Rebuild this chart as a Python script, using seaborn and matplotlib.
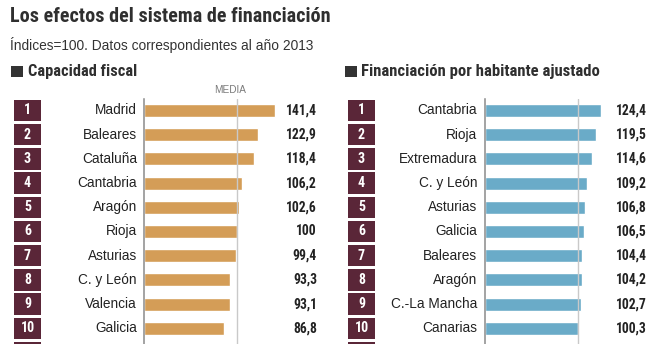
import matplotlib
matplotlib.use("Agg")
import matplotlib.pyplot as plt
from matplotlib import font_manager
from matplotlib.font_manager import FontProperties
from matplotlib.patches import Rectangle
from matplotlib.transforms import blended_transform_factory
import seaborn as sns
import pandas as pd

# --- data -------------------------------------------------------------
fiscal_regions = ["Madrid", "Baleares", "Cataluña", "Cantabria", "Aragón",
                  "Rioja", "Asturias", "C. y León", "Valencia", "Galicia"]
fiscal_values = [141.4, 122.9, 118.4, 106.2, 102.6, 100.0, 99.4, 93.3, 93.1, 86.8]

funding_regions = ["Cantabria", "Rioja", "Extremadura", "C. y León", "Asturias",
                   "Galicia", "Baleares", "Aragón", "C.-La Mancha", "Canarias"]
funding_values = [124.4, 119.5, 114.6, 109.2, 106.8, 106.5, 104.4, 104.2, 102.7, 100.3]

ranks = list(range(1, 11))

title = "Los efectos del sistema de financiación"
subtitle = "Índices=100. Datos correspondientes al año 2013"
panel_titles = ["Capacidad fiscal", "Financiación por habitante ajustado"]
median_label = "MEDIA"

# --- style ------------------------------------------------------------
sns.set_theme(style="white")
plt.rcParams["font.family"] = ["Liberation Sans", "DejaVu Sans"]


def condensed_bold_file():
    """Pick an installed narrow/condensed bold face for headings and figures."""
    patterns = ["LiberationSansNarrow-Bold.", "RobotoCondensed-Bold.",
                "Roboto_Condensed-Bold", "NotoSans-CondensedBold.",
                "OpenSans-CondBold", "OpenSansCondensed-Bold",
                "DejaVuSansCondensed-Bold."]
    files = [f.fname for f in font_manager.fontManager.ttflist]
    for p in patterns:
        for fn in files:
            if p.lower() in fn.lower().replace(" ", ""):
                return fn
    for f in font_manager.fontManager.ttflist:
        if f.stretch in ("condensed", "semi-condensed", "extra-condensed") and \
                (f.weight in ("bold", 700) or "bold" in str(f.fname).lower()):
            return f.fname
    return None


COND_FILE = condensed_bold_file()


def cond(size):
    if COND_FILE:
        return FontProperties(fname=COND_FILE, size=size)
    return FontProperties(family="DejaVu Sans", weight="bold",
                          stretch="condensed", size=size)


W, H = 664, 344
TAN = "#D49D57"
BLUE = "#6AABC8"
MAROON = "#5A2638"
DARK = "#2f2f2f"

fig = plt.figure(figsize=(W / 100, H / 100), dpi=100)
fig.patch.set_facecolor("white")
renderer = fig.canvas.get_renderer()


def fx(px):
    return px / W


def fy(py):
    return 1 - py / H


def fitted(text, width_px, max_size):
    """Condensed bold font sized so that `text` spans about `width_px`."""
    t = fig.text(0, 0, text, fontproperties=cond(10))
    w = t.get_window_extent(renderer=renderer).width
    t.remove()
    return cond(min(max_size, 10 * width_px / w))


ROW0 = 110.5      # centre of first row (px from top)
ROW_STEP = 24.2   # px between rows
AX_TOP = 99       # top of the axis line
PX_PER_UNIT = 0.932

VALUE_FONT = cond(9.8)
RANK_FONT = cond(10)


def panel(regions, values, color, axis_x, right_edge, box_x, label_x, value_x,
          header_sq_x, header_text_x, header_right, header, show_median_label):
    top_rows = (AX_TOP - ROW0) / ROW_STEP
    bottom_rows = (H - ROW0) / ROW_STEP
    ax = fig.add_axes([fx(axis_x), 0, fx(right_edge - axis_x), (H - AX_TOP) / H])
    df = pd.DataFrame({"region": regions, "valor": values})
    sns.barplot(data=df, x="valor", y="region", orient="h", color=color,
                width=0.54, saturation=1, ax=ax, zorder=2)
    ax.set_xlim(0, (right_edge - axis_x) / PX_PER_UNIT)
    ax.set_ylim(bottom_rows, top_rows)
    ax.axvline(100, color="#c9c9c9", lw=1.0, zorder=3)
    for s in ["top", "right", "bottom"]:
        ax.spines[s].set_visible(False)
    ax.spines["left"].set_color("#8a8a8a")
    ax.spines["left"].set_linewidth(1.1)
    ax.set_xticks([])
    ax.set_yticks([])
    ax.set_xlabel("")
    ax.set_ylabel("")
    ax.patch.set_alpha(0)

    tr = blended_transform_factory(fig.transFigure, ax.transData)
    # rank tiles; the list continues below the visible rows
    for i in range(len(ranks) + 1):
        ax.add_patch(Rectangle((fx(box_x), i - 0.44), fx(27), 0.88,
                               transform=tr, facecolor=MAROON, edgecolor="none",
                               clip_on=False, zorder=4))
    for i, r in enumerate(ranks):
        ax.text(fx(box_x + 13.5), i, str(r), transform=tr, ha="center",
                va="center", color="white", fontproperties=RANK_FONT,
                clip_on=False, zorder=5)
    for i, (reg, v) in enumerate(zip(regions, values)):
        ax.text(fx(label_x), i, reg, transform=tr, ha="right", va="center",
                fontsize=9.8, color="#222222", clip_on=False)
        lab = f"{v:.1f}".replace(".", ",")
        if lab.endswith(",0"):
            lab = lab[:-2]
        ax.text(fx(value_x), i, lab, transform=tr, ha="right", va="center",
                fontproperties=VALUE_FONT, color="#222222", clip_on=False)

    fig.patches.append(Rectangle((fx(header_sq_x), fy(77)), fx(11.5), 11 / H,
                                 transform=fig.transFigure, facecolor="#333333",
                                 edgecolor="none"))
    fig.text(fx(header_text_x), fy(71.5), header, ha="left", va="center",
             fontproperties=fitted(header, header_right - header_text_x, 12),
             color=DARK)
    if show_median_label:
        fig.text(fx(230), fy(90), median_label, ha="center", va="center",
                 fontsize=7.2, color="#7a7a7a")
    return ax


panel(fiscal_regions, fiscal_values, TAN, axis_x=143.5, right_edge=330,
      box_x=14, label_x=137, value_x=317, header_sq_x=11, header_text_x=28,
      header_right=137, header=panel_titles[0], show_median_label=True)
panel(funding_regions, funding_values, BLUE, axis_x=485, right_edge=660,
      box_x=348, label_x=477, value_x=647, header_sq_x=345, header_text_x=361,
      header_right=600, header=panel_titles[1], show_median_label=False)

fig.text(fx(10), fy(17), title, ha="left", va="center",
         fontproperties=fitted(title, 320, 15), color=DARK)
fig.text(fx(10), fy(45), subtitle, ha="left", va="center", fontsize=9.9,
         color="#333333")

fig.savefig("out.png", dpi=100, facecolor="white")
